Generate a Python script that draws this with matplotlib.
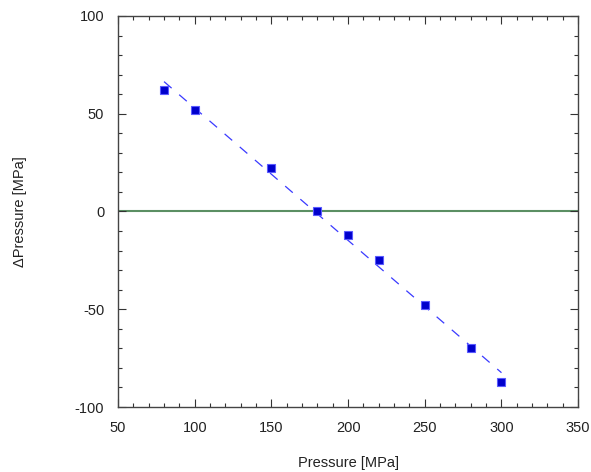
import numpy as np
import matplotlib
matplotlib.use("Agg")
import matplotlib.pyplot as plt
from matplotlib.ticker import MultipleLocator

plt.rcParams['font.family'] = ['Liberation Sans', 'DejaVu Sans']
plt.rcParams['axes.unicode_minus'] = False

pressure = [80, 100, 150, 180, 200, 220, 250, 280, 300]
delta_p = [62, 52, 22, 0, -12, -25, -48, -70, -87]
x_label = "Pressure [MPa]"
y_label = "ΔPressure [MPa]"

fig = plt.figure(figsize=(5.91, 4.72), dpi=100)
ax = fig.add_axes([0.1997, 0.1377, 0.7786, 0.8285])

ax.axhline(0, color='#5b8f63', lw=1.5, zorder=1)

coef = np.polyfit(pressure, delta_p, 1)
xf = np.array([min(pressure), max(pressure)])
ax.plot(xf, np.polyval(coef, xf), color='#3a3aff', lw=0.9, dashes=(8, 8), zorder=2)

ax.plot(pressure, delta_p, 's', color='#0000cc', markeredgecolor='#5a5aff',
        markeredgewidth=0.8, markersize=6.2, zorder=3)

ax.set_xlim(50, 350)
ax.set_ylim(-100, 100)
ax.xaxis.set_major_locator(MultipleLocator(50))
ax.xaxis.set_minor_locator(MultipleLocator(10))
ax.yaxis.set_major_locator(MultipleLocator(50))
ax.yaxis.set_minor_locator(MultipleLocator(10))
ax.tick_params(which='both', direction='in', top=True, right=True,
               colors='#333333', labelcolor='#222222', labelsize=10.5)
ax.tick_params(which='major', length=6, width=0.8, pad=10)
ax.tick_params(which='minor', length=3, width=0.8)
for s in ax.spines.values():
    s.set_color('#444444')
    s.set_linewidth(1.0)

ax.set_xlabel(x_label, fontsize=10.5, color='#222222', labelpad=15)
ax.set_ylabel(y_label, fontsize=10.5, color='#222222', labelpad=34)

fig.savefig('out.png', dpi=100)
